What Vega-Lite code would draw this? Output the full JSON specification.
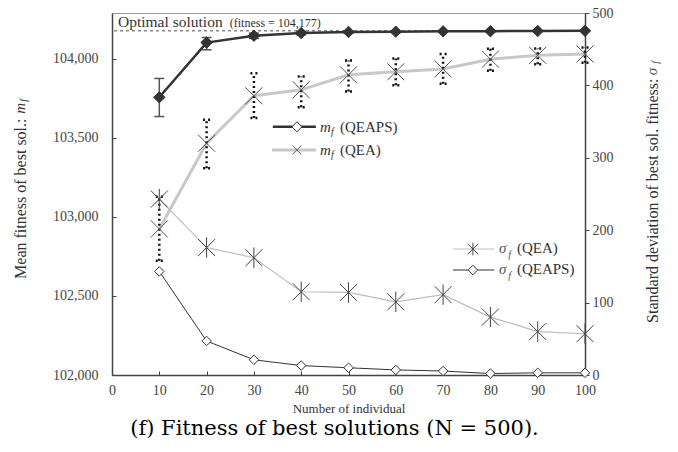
{
  "$schema": "https://vega.github.io/schema/vega-lite/v6.json",
  "width": 473,
  "height": 362,
  "autosize": "none",
  "padding": {"left": 112, "top": 13, "right": 93, "bottom": 77},
  "background": "white",
  "title": {"text": "(f) Fitness of best solutions (N = 500).", "orient": "bottom", "anchor": "middle", "font": "DejaVu Serif", "fontSize": 21, "fontWeight": "normal", "color": "#000", "offset": 3, "dx": -14},
  "datasets": {
    "mf": [
      {"n": 10, "qeaps": 103757, "qeaps_lo": 103635, "qeaps_hi": 103876, "qea": 102924, "qea_lo": 102722, "qea_hi": 103127},
      {"n": 20, "qeaps": 104103, "qeaps_lo": 104057, "qeaps_hi": 104135, "qea": 103466, "qea_lo": 103308, "qea_hi": 103614},
      {"n": 30, "qeaps": 104146, "qeaps_lo": 104129, "qeaps_hi": 104163, "qea": 103766, "qea_lo": 103625, "qea_hi": 103909},
      {"n": 40, "qeaps": 104163, "qeaps_lo": 104152, "qeaps_hi": 104174, "qea": 103804, "qea_lo": 103694, "qea_hi": 103888},
      {"n": 50, "qeaps": 104170, "qeaps_lo": 104162, "qeaps_hi": 104177, "qea": 103899, "qea_lo": 103793, "qea_hi": 103990},
      {"n": 60, "qeaps": 104172, "qeaps_lo": 104166, "qeaps_hi": 104177, "qea": 103918, "qea_lo": 103833, "qea_hi": 104002},
      {"n": 70, "qeaps": 104174, "qeaps_lo": 104169, "qeaps_hi": 104177, "qea": 103936, "qea_lo": 103842, "qea_hi": 104030},
      {"n": 80, "qeaps": 104175, "qeaps_lo": 104173, "qeaps_hi": 104177, "qea": 103998, "qea_lo": 103925, "qea_hi": 104064},
      {"n": 90, "qeaps": 104176, "qeaps_lo": 104174, "qeaps_hi": 104177, "qea": 104022, "qea_lo": 103966, "qea_hi": 104065},
      {"n": 100, "qeaps": 104177, "qeaps_lo": 104175, "qeaps_hi": 104177, "qea": 104031, "qea_lo": 103975, "qea_hi": 104072}
    ],
    "sf": [
      {"n": 10, "qea": 243, "qeaps": 143},
      {"n": 20, "qea": 176, "qeaps": 47},
      {"n": 30, "qea": 162, "qeaps": 21},
      {"n": 40, "qea": 115, "qeaps": 13},
      {"n": 50, "qea": 114, "qeaps": 10},
      {"n": 60, "qea": 101, "qeaps": 7},
      {"n": 70, "qea": 111, "qeaps": 5.5},
      {"n": 80, "qea": 80, "qeaps": 2},
      {"n": 90, "qea": 60, "qeaps": 3},
      {"n": 100, "qea": 57, "qeaps": 3}
    ]
  },
  "config": {
    "font": "Liberation Serif",
    "view": {"stroke": "#9a9a9a", "strokeWidth": 1},
    "axis": {"labelFont": "Liberation Serif", "titleFont": "Liberation Serif", "labelFontSize": 14, "labelColor": "#444", "titleColor": "#333", "titleFontWeight": "normal", "domainColor": "#444", "domainWidth": 1.5, "tickColor": "#444", "tickWidth": 1, "grid": false, "labelFlush": false}
  },
  "layer": [
    {
      "layer": [
        {
          "data": {"values": [{}]},
          "mark": {"type": "rule", "color": "#888", "strokeDash": [3, 3], "strokeWidth": 1.5},
          "encoding": {
            "y": {"datum": 104177, "type": "quantitative", "scale": {"domain": [102000, 104290]},
              "axis": {"orient": "left", "values": [102000, 102500, 103000, 103500, 104000], "format": ",d", "tickSize": -4, "labelPadding": 18, "labelFlush": false, "labelFont": "Liberation Serif", "labelFontSize": 14, "labelColor": "#444", "title": "Mean fitness of best sol.: ", "titleFont": "Liberation Serif", "titleFontWeight": "normal", "titleColor": "#333", "titleAngle": 270, "titleAlign": "right", "titleBaseline": "middle", "titleX": -92, "titleY": 105, "titleFontSize": 16}}
          }
        },
        {
          "data": {"name": "mf"},
          "mark": {"type": "line", "color": "#c8c8c8", "strokeWidth": 3},
          "encoding": {
            "x": {"field": "n", "type": "quantitative", "scale": {"domain": [0, 100]},
              "axis": {"orient": "bottom", "values": [0, 10, 20, 30, 40, 50, 60, 70, 80, 90, 100], "tickSize": -4, "labelPadding": 12, "labelFlush": false, "labelFont": "Liberation Serif", "labelFontSize": 14, "labelColor": "#444", "title": "Number of individual", "titleFont": "Liberation Serif", "titleFontWeight": "normal", "titleColor": "#333", "titleFontSize": 13, "titlePadding": 5}},
            "y": {"field": "qea", "type": "quantitative", "scale": {"domain": [102000, 104290]}}
          }
        },
        {
          "data": {"name": "mf"},
          "mark": {"type": "rule", "color": "#111", "strokeDash": [2, 3], "strokeWidth": 2.5},
          "encoding": {
            "x": {"field": "n", "type": "quantitative", "scale": {"domain": [0, 100]}},
            "y": {"field": "qea_lo", "type": "quantitative", "scale": {"domain": [102000, 104290]}},
            "y2": {"field": "qea_hi"}
          }
        },
        {
          "data": {"name": "mf"},
          "mark": {"type": "point", "shape": "M-1,0L1,0", "size": 49, "filled": false, "stroke": "#111", "strokeWidth": 2.5, "strokeDash": [2, 3], "opacity": 1},
          "encoding": {
            "x": {"field": "n", "type": "quantitative", "scale": {"domain": [0, 100]}},
            "y": {"field": "qea_lo", "type": "quantitative", "scale": {"domain": [102000, 104290]}}
          }
        },
        {
          "data": {"name": "mf"},
          "mark": {"type": "point", "shape": "M-1,0L1,0", "size": 49, "filled": false, "stroke": "#111", "strokeWidth": 2.5, "strokeDash": [2, 3], "opacity": 1},
          "encoding": {
            "x": {"field": "n", "type": "quantitative", "scale": {"domain": [0, 100]}},
            "y": {"field": "qea_hi", "type": "quantitative", "scale": {"domain": [102000, 104290]}}
          }
        },
        {
          "data": {"name": "mf"},
          "mark": {"type": "point", "shape": "M-1,-1L1,1M-1,1L1,-1", "size": 289, "filled": false, "stroke": "#555", "strokeWidth": 1, "opacity": 1},
          "encoding": {
            "x": {"field": "n", "type": "quantitative", "scale": {"domain": [0, 100]}},
            "y": {"field": "qea", "type": "quantitative", "scale": {"domain": [102000, 104290]}}
          }
        },
        {
          "data": {"name": "mf"},
          "mark": {"type": "rule", "color": "#555", "strokeWidth": 1.5},
          "encoding": {
            "x": {"field": "n", "type": "quantitative", "scale": {"domain": [0, 100]}},
            "y": {"field": "qeaps_lo", "type": "quantitative", "scale": {"domain": [102000, 104290]}},
            "y2": {"field": "qeaps_hi"}
          }
        },
        {
          "data": {"name": "mf"},
          "mark": {"type": "point", "shape": "M-1,0L1,0", "size": 100, "filled": false, "stroke": "#555", "strokeWidth": 1.5, "opacity": 1},
          "encoding": {
            "x": {"field": "n", "type": "quantitative", "scale": {"domain": [0, 100]}},
            "y": {"field": "qeaps_lo", "type": "quantitative", "scale": {"domain": [102000, 104290]}}
          }
        },
        {
          "data": {"name": "mf"},
          "mark": {"type": "point", "shape": "M-1,0L1,0", "size": 100, "filled": false, "stroke": "#555", "strokeWidth": 1.5, "opacity": 1},
          "encoding": {
            "x": {"field": "n", "type": "quantitative", "scale": {"domain": [0, 100]}},
            "y": {"field": "qeaps_hi", "type": "quantitative", "scale": {"domain": [102000, 104290]}}
          }
        },
        {
          "data": {"name": "mf"},
          "mark": {"type": "line", "color": "#333", "strokeWidth": 2.5},
          "encoding": {
            "x": {"field": "n", "type": "quantitative", "scale": {"domain": [0, 100]}},
            "y": {"field": "qeaps", "type": "quantitative", "scale": {"domain": [102000, 104290]}}
          }
        },
        {
          "data": {"name": "mf"},
          "mark": {"type": "point", "shape": "diamond", "size": 130, "filled": true, "fill": "#333", "stroke": "#333", "strokeWidth": 1, "opacity": 1},
          "encoding": {
            "x": {"field": "n", "type": "quantitative", "scale": {"domain": [0, 100]}},
            "y": {"field": "qeaps", "type": "quantitative", "scale": {"domain": [102000, 104290]}}
          }
        },
        {
          "data": {"values": [{}]},
          "mark": {"type": "text", "text": "Optimal solution", "font": "Liberation Serif", "fontSize": 15.5, "align": "left", "baseline": "alphabetic", "color": "#333"},
          "encoding": {
            "x": {"datum": 1.27, "type": "quantitative", "scale": {"domain": [0, 100]}},
            "y": {"datum": 104203, "type": "quantitative", "scale": {"domain": [102000, 104290]}}
          }
        },
        {
          "data": {"values": [{}]},
          "mark": {"type": "text", "text": "(fitness = 104,177)", "font": "Liberation Serif", "fontSize": 12, "align": "left", "baseline": "alphabetic", "color": "#333"},
          "encoding": {
            "x": {"datum": 24.9, "type": "quantitative", "scale": {"domain": [0, 100]}},
            "y": {"datum": 104203, "type": "quantitative", "scale": {"domain": [102000, 104290]}}
          }
        },
        {
          "data": {"values": [{}]},
          "mark": {"type": "rule", "color": "#333", "strokeWidth": 2.5},
          "encoding": {
            "x": {"datum": 34.0, "type": "quantitative", "scale": {"domain": [0, 100]}},
            "x2": {"datum": 43.1},
            "y": {"datum": 103570, "type": "quantitative", "scale": {"domain": [102000, 104290]}}
          }
        },
        {
          "data": {"values": [{}]},
          "mark": {"type": "point", "shape": "diamond", "size": 100, "filled": true, "fill": "white", "stroke": "#333", "strokeWidth": 1, "opacity": 1},
          "encoding": {
            "x": {"datum": 39.1, "type": "quantitative", "scale": {"domain": [0, 100]}},
            "y": {"datum": 103570, "type": "quantitative", "scale": {"domain": [102000, 104290]}}
          }
        },
        {
          "data": {"values": [{}]},
          "mark": {"type": "rule", "color": "#c8c8c8", "strokeWidth": 3},
          "encoding": {
            "x": {"datum": 33.8, "type": "quantitative", "scale": {"domain": [0, 100]}},
            "x2": {"datum": 43.1},
            "y": {"datum": 103424, "type": "quantitative", "scale": {"domain": [102000, 104290]}}
          }
        },
        {
          "data": {"values": [{}]},
          "mark": {"type": "point", "shape": "M-1,-1L1,1M-1,1L1,-1", "size": 81, "filled": false, "stroke": "#666", "strokeWidth": 1, "opacity": 1},
          "encoding": {
            "x": {"datum": 39.1, "type": "quantitative", "scale": {"domain": [0, 100]}},
            "y": {"datum": 103424, "type": "quantitative", "scale": {"domain": [102000, 104290]}}
          }
        },
        {
          "data": {"values": [{"label": "m", "xp": 44.0, "yp": 103570}, {"label": "m", "xp": 44.0, "yp": 103424}]},
          "mark": {"type": "text", "font": "Liberation Serif", "fontSize": 15, "fontStyle": "italic", "align": "left", "baseline": "middle", "color": "#333"},
          "encoding": {
            "text": {"field": "label"},
            "x": {"field": "xp", "type": "quantitative", "scale": {"domain": [0, 100]}},
            "y": {"field": "yp", "type": "quantitative", "scale": {"domain": [102000, 104290]}}
          }
        },
        {
          "data": {"values": [{"label": "f", "xp": 46.3, "yp": 103540}, {"label": "f", "xp": 46.3, "yp": 103394}]},
          "mark": {"type": "text", "font": "Liberation Serif", "fontSize": 10, "fontStyle": "italic", "align": "left", "baseline": "middle", "color": "#333"},
          "encoding": {
            "text": {"field": "label"},
            "x": {"field": "xp", "type": "quantitative", "scale": {"domain": [0, 100]}},
            "y": {"field": "yp", "type": "quantitative", "scale": {"domain": [102000, 104290]}}
          }
        },
        {
          "data": {"values": [{"label": "(QEAPS)", "xp": 48.2, "yp": 103570}, {"label": "(QEA)", "xp": 48.2, "yp": 103424}]},
          "mark": {"type": "text", "font": "Liberation Serif", "fontSize": 15, "align": "left", "baseline": "middle", "color": "#333"},
          "encoding": {
            "text": {"field": "label"},
            "x": {"field": "xp", "type": "quantitative", "scale": {"domain": [0, 100]}},
            "y": {"field": "yp", "type": "quantitative", "scale": {"domain": [102000, 104290]}}
          }
        },
        {
          "data": {"values": [{}]},
          "mark": {"type": "text", "text": "m", "font": "Liberation Serif", "fontSize": 15, "fontStyle": "italic", "angle": 270, "align": "left", "baseline": "middle", "color": "#333"},
          "encoding": {
            "x": {"datum": -19.45, "type": "quantitative", "scale": {"domain": [0, 100]}},
            "y": {"datum": 103652, "type": "quantitative", "scale": {"domain": [102000, 104290]}}
          }
        },
        {
          "data": {"values": [{}]},
          "mark": {"type": "text", "text": "f", "font": "Liberation Serif", "fontSize": 10, "fontStyle": "italic", "angle": 270, "align": "left", "baseline": "middle", "color": "#333"},
          "encoding": {
            "x": {"datum": -18.6, "type": "quantitative", "scale": {"domain": [0, 100]}},
            "y": {"datum": 103728, "type": "quantitative", "scale": {"domain": [102000, 104290]}}
          }
        }
      ]
    },
    {
      "layer": [
        {
          "data": {"name": "sf"},
          "mark": {"type": "line", "color": "#bdbdbd", "strokeWidth": 1.2},
          "encoding": {
            "x": {"field": "n", "type": "quantitative", "scale": {"domain": [0, 100]}},
            "y": {"field": "qea", "type": "quantitative", "scale": {"domain": [0, 500]},
              "axis": {"orient": "right", "values": [0, 100, 200, 300, 400, 500], "tickSize": 4, "labelPadding": 3, "labelFlush": false, "labelFont": "Liberation Serif", "labelFontSize": 14, "labelColor": "#444", "title": "Standard deviation  of best sol. fitness: ", "titleFont": "Liberation Serif", "titleFontWeight": "normal", "titleColor": "#333", "titleAngle": 270, "titleAlign": "right", "titleBaseline": "middle", "titleX": 67, "titleY": 65, "titleFontSize": 16}}
          }
        },
        {
          "data": {"name": "sf"},
          "mark": {"type": "point", "shape": "M-1,-1L1,1M-1,1L1,-1M0,-1.2L0,1.2", "size": 289, "filled": false, "stroke": "#444", "strokeWidth": 1, "opacity": 1},
          "encoding": {
            "x": {"field": "n", "type": "quantitative", "scale": {"domain": [0, 100]}},
            "y": {"field": "qea", "type": "quantitative", "scale": {"domain": [0, 500]}}
          }
        },
        {
          "data": {"name": "sf"},
          "mark": {"type": "line", "color": "#333", "strokeWidth": 1},
          "encoding": {
            "x": {"field": "n", "type": "quantitative", "scale": {"domain": [0, 100]}},
            "y": {"field": "qeaps", "type": "quantitative", "scale": {"domain": [0, 500]}}
          }
        },
        {
          "data": {"name": "sf"},
          "mark": {"type": "point", "shape": "diamond", "size": 90, "filled": true, "fill": "white", "stroke": "#333", "strokeWidth": 1, "opacity": 1},
          "encoding": {
            "x": {"field": "n", "type": "quantitative", "scale": {"domain": [0, 100]}},
            "y": {"field": "qeaps", "type": "quantitative", "scale": {"domain": [0, 500]}}
          }
        },
        {
          "data": {"values": [{}]},
          "mark": {"type": "rule", "color": "#bdbdbd", "strokeWidth": 1.2},
          "encoding": {
            "x": {"datum": 72.1, "type": "quantitative", "scale": {"domain": [0, 100]}},
            "x2": {"datum": 80.8},
            "y": {"datum": 174, "type": "quantitative", "scale": {"domain": [0, 500]}}
          }
        },
        {
          "data": {"values": [{}]},
          "mark": {"type": "point", "shape": "M-1,-1L1,1M-1,1L1,-1M0,-1.2L0,1.2", "size": 110, "filled": false, "stroke": "#444", "strokeWidth": 1, "opacity": 1},
          "encoding": {
            "x": {"datum": 76.3, "type": "quantitative", "scale": {"domain": [0, 100]}},
            "y": {"datum": 174, "type": "quantitative", "scale": {"domain": [0, 500]}}
          }
        },
        {
          "data": {"values": [{}]},
          "mark": {"type": "rule", "color": "#333", "strokeWidth": 1.2},
          "encoding": {
            "x": {"datum": 72.1, "type": "quantitative", "scale": {"domain": [0, 100]}},
            "x2": {"datum": 80.8},
            "y": {"datum": 145, "type": "quantitative", "scale": {"domain": [0, 500]}}
          }
        },
        {
          "data": {"values": [{}]},
          "mark": {"type": "point", "shape": "diamond", "size": 90, "filled": true, "fill": "white", "stroke": "#333", "strokeWidth": 1, "opacity": 1},
          "encoding": {
            "x": {"datum": 76.3, "type": "quantitative", "scale": {"domain": [0, 100]}},
            "y": {"datum": 145, "type": "quantitative", "scale": {"domain": [0, 500]}}
          }
        },
        {
          "data": {"values": [{"label": "σ", "xp": 81.8, "yp": 176}, {"label": "σ", "xp": 81.8, "yp": 147}]},
          "mark": {"type": "text", "font": "Liberation Serif", "fontSize": 15, "fontStyle": "italic", "align": "left", "baseline": "middle", "color": "#555"},
          "encoding": {
            "text": {"field": "label"},
            "x": {"field": "xp", "type": "quantitative", "scale": {"domain": [0, 100]}},
            "y": {"field": "yp", "type": "quantitative", "scale": {"domain": [0, 500]}}
          }
        },
        {
          "data": {"values": [{"label": "f", "xp": 83.8, "yp": 166}, {"label": "f", "xp": 83.8, "yp": 137}]},
          "mark": {"type": "text", "font": "Liberation Serif", "fontSize": 10, "fontStyle": "italic", "align": "left", "baseline": "middle", "color": "#555"},
          "encoding": {
            "text": {"field": "label"},
            "x": {"field": "xp", "type": "quantitative", "scale": {"domain": [0, 100]}},
            "y": {"field": "yp", "type": "quantitative", "scale": {"domain": [0, 500]}}
          }
        },
        {
          "data": {"values": [{"label": "(QEA)", "xp": 85.6, "yp": 176}, {"label": "(QEAPS)", "xp": 85.6, "yp": 147}]},
          "mark": {"type": "text", "font": "Liberation Serif", "fontSize": 15, "align": "left", "baseline": "middle", "color": "#333"},
          "encoding": {
            "text": {"field": "label"},
            "x": {"field": "xp", "type": "quantitative", "scale": {"domain": [0, 100]}},
            "y": {"field": "yp", "type": "quantitative", "scale": {"domain": [0, 500]}}
          }
        },
        {
          "data": {"values": [{}]},
          "mark": {"type": "text", "text": "σ", "font": "Liberation Serif", "fontSize": 15, "fontStyle": "italic", "angle": 270, "align": "left", "baseline": "middle", "color": "#555"},
          "encoding": {
            "x": {"datum": 114.2, "type": "quantitative", "scale": {"domain": [0, 100]}},
            "y": {"datum": 414, "type": "quantitative", "scale": {"domain": [0, 500]}}
          }
        },
        {
          "data": {"values": [{}]},
          "mark": {"type": "text", "text": "f", "font": "Liberation Serif", "fontSize": 10, "fontStyle": "italic", "angle": 270, "align": "left", "baseline": "middle", "color": "#555"},
          "encoding": {
            "x": {"datum": 115.0, "type": "quantitative", "scale": {"domain": [0, 100]}},
            "y": {"datum": 430, "type": "quantitative", "scale": {"domain": [0, 500]}}
          }
        }
      ]
    }
  ],
  "resolve": {"scale": {"y": "independent"}}
}
